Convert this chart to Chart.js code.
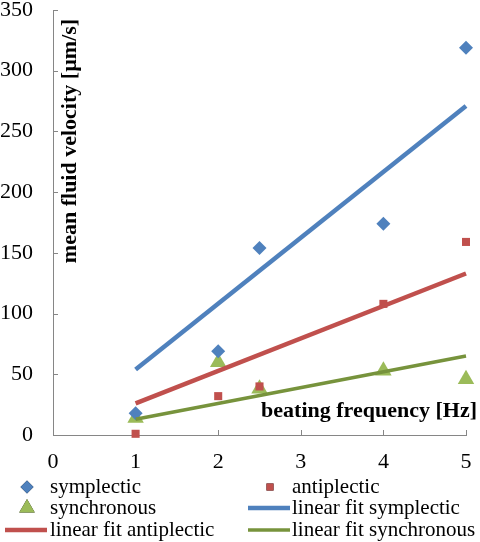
<!DOCTYPE html>
<html>
<head>
<meta charset="utf-8">
<script src="https://cdn.jsdelivr.net/npm/chart.js@4/dist/chart.umd.min.js"></script>
<style>
  html, body { margin: 0; padding: 0; background: #fff; overflow: hidden; }
  canvas { display: block; }
</style>
</head>
<body>
<canvas id="velocityChart" width="480" height="542"></canvas>
<script>
const freqs = [1, 2, 2.5, 4, 5];
const symplectic = [18, 69, 154, 174, 319];
const antiplectic = [1, 32, 40, 108, 159];
const synchronous = [14, 60, 38, 53, 46];

const fitX = [1, 5];
const fitSymplectic = [54, 271];
const fitAntiplectic = [26, 133];
const fitSynchronous = [13, 65];

const blue = "#4F81BD";
const red = "#C0504D";
const green = "#9BBB59";
const greenLine = "#77933C";
const axisGray = "#868686";
const serif = "'Liberation Serif', 'Times New Roman', serif";

const pts = (xs, ys) => xs.map((x, i) => ({ x: x, y: ys[i] }));

const insideTicks = {
  id: "insideTicks",
  beforeDatasetsDraw(chart) {
    const { ctx, chartArea, scales } = chart;
    ctx.save();
    ctx.strokeStyle = axisGray;
    ctx.lineWidth = 1;
    ctx.beginPath();
    scales.y.ticks.forEach((t) => {
      const y = Math.round(scales.y.getPixelForValue(t.value)) + 0.5;
      ctx.moveTo(chartArea.left, y);
      ctx.lineTo(chartArea.left + 5, y);
    });
    scales.x.ticks.forEach((t) => {
      const x = Math.round(scales.x.getPixelForValue(t.value)) + 0.5;
      ctx.moveTo(x, chartArea.bottom);
      ctx.lineTo(x, chartArea.bottom - 5);
    });
    ctx.stroke();
    ctx.restore();
  }
};

const titles = {
  id: "titles",
  afterDraw(chart) {
    const { ctx } = chart;
    ctx.save();
    ctx.fillStyle = "#000";
    ctx.font = "bold 22px " + serif;
    ctx.textAlign = "center";
    ctx.textBaseline = "middle";
    ctx.translate(70, 141);
    ctx.rotate(-Math.PI / 2);
    ctx.fillText("mean fluid velocity [µm/s]", 0, 0);
    ctx.restore();

    ctx.save();
    ctx.fillStyle = "#000";
    ctx.font = "bold 22px " + serif;
    ctx.textAlign = "right";
    ctx.textBaseline = "middle";
    ctx.fillText("beating frequency [Hz]", 477, 411);
    ctx.restore();
  }
};

// two-column legend under the axis, like the original
const gridLegend = {
  id: "gridLegend",
  afterDraw(chart) {
    const { ctx } = chart;
    const rows = [487, 508, 530];
    const cols = [{ mark: 27, line: [5, 47], text: 50 }, { mark: 270, line: [248, 290], text: 292 }];
    ctx.save();
    ctx.font = "21px " + serif;
    ctx.textBaseline = "middle";
    ctx.fillStyle = "#000";
    chart.data.datasets.forEach((ds, i) => {
      const col = cols[i % 2];
      const y = rows[Math.floor(i / 2)];
      if (ds.showLine) {
        ctx.strokeStyle = ds.borderColor;
        ctx.lineWidth = ds.borderWidth;
        ctx.beginPath();
        ctx.moveTo(col.line[0], y);
        ctx.lineTo(col.line[1], y);
        ctx.stroke();
      } else {
        Chart.helpers.drawPoint(ctx, {
          pointStyle: ds.pointStyle,
          radius: ds.legendRadius,
          rotation: 0,
          borderWidth: 0
        }, col.mark, y);
        ctx.fillStyle = ds.backgroundColor;
        ctx.fill();
      }
      ctx.fillStyle = "#000";
      ctx.fillText(ds.label, col.text, y);
    });
    ctx.restore();
  }
};

new Chart(document.getElementById("velocityChart"), {
  type: "scatter",
  data: {
    datasets: [
      { label: "symplectic", data: pts(freqs, symplectic), pointStyle: "rectRot", pointRadius: 7, legendRadius: 6.5,
        backgroundColor: blue, borderColor: blue, borderWidth: 0, order: 2 },
      { label: "antiplectic", data: pts(freqs, antiplectic), pointStyle: "rect", pointRadius: 5.7, legendRadius: 5,
        backgroundColor: red, borderColor: red, borderWidth: 0, order: 2 },
      { label: "synchronous", data: pts(freqs, synchronous), pointStyle: "triangle", pointRadius: 9.5, legendRadius: 9,
        backgroundColor: green, borderColor: green, borderWidth: 0, order: 2 },
      { label: "linear fit symplectic", data: pts(fitX, fitSymplectic), showLine: true, pointRadius: 0,
        borderColor: blue, backgroundColor: blue, borderWidth: 4.5, order: 1 },
      { label: "linear fit antiplectic", data: pts(fitX, fitAntiplectic), showLine: true, pointRadius: 0,
        borderColor: red, backgroundColor: red, borderWidth: 4.5, order: 1 },
      { label: "linear fit synchronous", data: pts(fitX, fitSynchronous), showLine: true, pointRadius: 0,
        borderColor: greenLine, backgroundColor: greenLine, borderWidth: 3.5, order: 1 }
    ]
  },
  options: {
    responsive: false,
    animation: false,
    clip: false,
    layout: { autoPadding: false, padding: { left: 1, right: 14, top: 10, bottom: 67 } },
    plugins: { legend: { display: false }, tooltip: { enabled: false } },
    scales: {
      x: {
        type: "linear", min: 0, max: 5,
        ticks: { stepSize: 1, color: "#000", padding: 14, font: { family: serif, size: 22 } },
        grid: { display: false, drawTicks: false },
        border: { display: true, color: axisGray, width: 1 },
        afterFit: (s) => { s.height = 40; s.paddingLeft = 0; s.paddingRight = 0; }
      },
      y: {
        type: "linear", min: 0, max: 350,
        ticks: { stepSize: 50, color: "#000", padding: 20, font: { family: serif, size: 22 } },
        grid: { display: false, drawTicks: false },
        border: { display: true, color: axisGray, width: 1 },
        afterFit: (s) => { s.width = 52; s.paddingTop = 0; s.paddingBottom = 0; }
      }
    }
  },
  plugins: [insideTicks, titles, gridLegend]
});
</script>
</body>
</html>
